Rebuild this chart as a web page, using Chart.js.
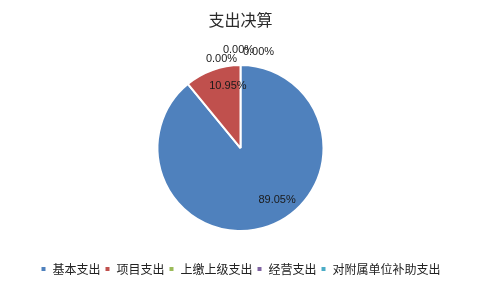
<!DOCTYPE html>
<html>
<head>
<meta charset="utf-8">
<script src="https://cdn.jsdelivr.net/npm/chart.js@4/dist/chart.umd.min.js"></script>
<style>
  html, body { margin:0; padding:0; background:#fff; }
  #wrap { width:481px; height:289px; }
</style>
</head>
<body>
<div id="wrap"><canvas id="pie" width="481" height="289"></canvas></div>
<script>
const categories = ['基本支出','项目支出','上缴上级支出','经营支出','对附属单位补助支出'];
const shares = [89.05, 10.95, 0, 0, 0]; // %
const shareLabels = ['89.05%','10.95%','0.00%','0.00%','0.00%'];

const COLORS = ['#4F81BD','#C0504D','#9BBB59','#8064A2','#4BACC6'];
// label nudges (px) relative to the slice's mid point
const NUDGE = [[17,-3],[7,-7],[-19,-6],[-2,-15],[18,-13]];
const RFRAC = [0.7, 0.7, 1.0, 1.0, 1.0];

const pctLabels = {
  id:'pctLabels',
  afterDatasetsDraw(chart){
    const ctx = chart.ctx;
    const meta = chart.getDatasetMeta(0);
    ctx.save();
    ctx.font = '11px "Liberation Sans", Arial, sans-serif';
    ctx.fillStyle = '#1a1a1a';
    ctx.textAlign = 'center';
    ctx.textBaseline = 'middle';
    meta.data.forEach((arc, i) => {
      const p = arc.getProps(['x','y','startAngle','endAngle','outerRadius'], true);
      const a = (p.startAngle + p.endAngle) / 2;
      const r = p.outerRadius * RFRAC[i];
      const x = p.x + Math.cos(a) * r + NUDGE[i][0];
      const y = p.y + Math.sin(a) * r + NUDGE[i][1];
      ctx.fillText(shareLabels[i], x, y);
    });
    ctx.restore();
  }
};

new Chart(document.getElementById('pie'), {
  type:'pie',
  data:{
    labels: categories,
    datasets:[{ data: shares, backgroundColor: COLORS, borderColor:'#fff', borderWidth:2, radius:83 }]
  },
  options:{
    responsive:false,
    animation:false,
    layout:{ padding:{ top:0, bottom:4, left:0, right:0 } },
    plugins:{
      title:{ display:true, text:'支出决算', color:'#2a2a2a',
        font:{ family:'"Noto Sans CJK SC", sans-serif', size:16, weight:'normal' },
        padding:{ top:10, bottom:8 } },
      legend:{ position:'bottom',
        labels:{ boxWidth:6, boxHeight:6, padding:4, color:'#222',
          font:{ family:'"Noto Sans CJK SC", sans-serif', size:12 } } },
      tooltip:{ enabled:false }
    }
  },
  plugins:[pctLabels]
});
</script>
</body>
</html>
